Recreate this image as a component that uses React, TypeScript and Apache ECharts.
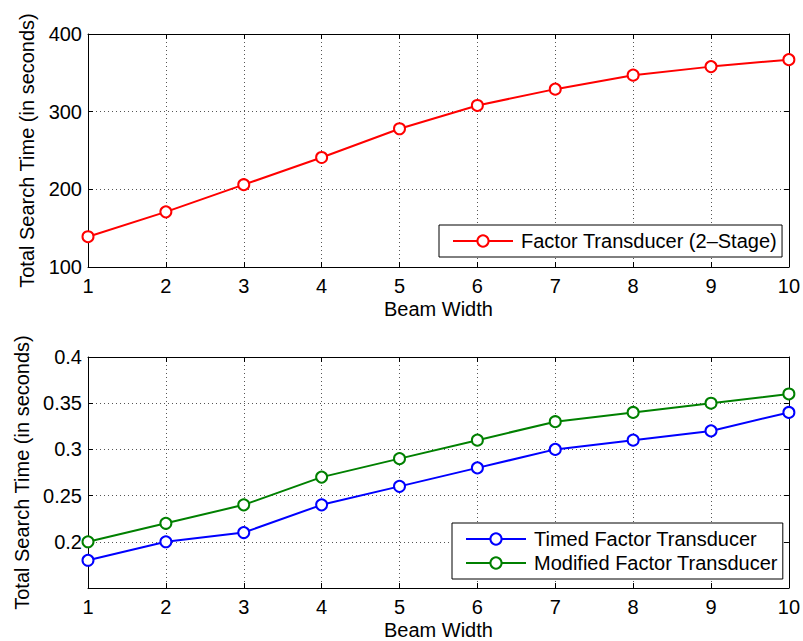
import React, { useEffect, useRef } from "react";
import * as echarts from "echarts";

const beamWidths = [1, 2, 3, 4, 5, 6, 7, 8, 9, 10];
const factor2Stage = [139, 171, 206, 241, 278, 308, 329, 347, 358, 367];
const timedFactor = [0.18, 0.2, 0.21, 0.24, 0.26, 0.28, 0.3, 0.31, 0.32, 0.34];
const modifiedFactor = [0.2, 0.22, 0.24, 0.27, 0.29, 0.31, 0.33, 0.34, 0.35, 0.36];

const seriesNames = [
  "Factor Transducer (2\u2013Stage)",
  "Timed Factor Transducer",
  "Modified Factor Transducer",
];
const xName = "Beam Width";
const yName = "Total Search Time (in seconds)";

const FONT = "Liberation Sans, Arial, Helvetica, sans-serif";
const FS = 20;

export default function App() {
  const ref = useRef<HTMLDivElement>(null);
  useEffect(() => {
    document.body.style.margin = "0";
    const chart = echarts.init(ref.current!, null, { renderer: "svg" });
    const gridLine = { show: true, lineStyle: { color: "#555", width: 1, type: [1, 3] as any } };
    const axisLine = { show: true, lineStyle: { color: "#000", width: 1 } };
    const tickIn = { show: true, inside: true, length: 5, lineStyle: { color: "#000" } };
    const label = { color: "#000", fontFamily: FONT, fontSize: FS };
    const nameStyle = { color: "#000", fontFamily: FONT, fontSize: FS };

    const mkX = (gridIndex: number, primary: boolean) => ({
      type: "value",
      gridIndex,
      min: 1,
      max: 10,
      interval: 1,
      position: primary ? "bottom" : "top",
      axisLine,
      axisTick: tickIn,
      axisLabel: primary ? { ...label, margin: 9 } : { show: false },
      splitLine: primary ? gridLine : { show: false },
      name: primary ? xName : "",
      nameLocation: "middle",
      nameGap: 32,
      nameTextStyle: nameStyle,
    });
    const mkY = (gridIndex: number, primary: boolean, min: number, max: number, interval: number, fmt: (v: number) => string) => ({
      type: "value",
      gridIndex,
      min,
      max,
      interval,
      position: primary ? "left" : "right",
      axisLine,
      axisTick: tickIn,
      axisLabel: primary ? { ...label, margin: 6, formatter: fmt } : { show: false },
      splitLine: primary ? gridLine : { show: false },
      name: primary ? yName : "",
      nameLocation: "middle",
      nameGap: 51,
      nameTextStyle: nameStyle,
    });

    const fmtTop = (v: number) => String(Math.round(v));
    const fmtBot = (v: number) => (Math.abs(v - 0.15) < 1e-9 ? "" : String(+v.toFixed(2)));

    const lineSeries = (name: string, color: string, ys: number[], axisIdx: number) => ({
      type: "line",
      name,
      xAxisIndex: axisIdx,
      yAxisIndex: axisIdx,
      data: beamWidths.map((x, i) => [x, ys[i]]),
      symbol: "circle",
      symbolSize: 11,
      showAllSymbol: true,
      clip: false,
      lineStyle: { color, width: 2 },
      itemStyle: { color: "#fff", borderColor: color, borderWidth: 2 },
      emphasis: { disabled: true },
    });

    const legendBase = {
      backgroundColor: "#fff",
      borderColor: "#000",
      borderWidth: 1,
      borderRadius: 0,
      itemWidth: 60,
      itemHeight: 14,
      itemGap: 0,
      textStyle: { color: "#000", fontFamily: FONT, fontSize: FS, lineHeight: 24, padding: [0, 0, 0, 3] },
      selectedMode: false,
    };

    chart.setOption({
      animation: false,
      grid: [
        { left: 88, top: 34, width: 704, height: 233 },
        { left: 88, top: 357, width: 704, height: 232 },
      ],
      xAxis: [mkX(0, true), mkX(0, false), mkX(1, true), mkX(1, false)],
      yAxis: [
        mkY(0, true, 100, 400, 100, fmtTop),
        mkY(0, false, 100, 400, 100, fmtTop),
        mkY(1, true, 0.15, 0.4, 0.05, fmtBot),
        mkY(1, false, 0.15, 0.4, 0.05, fmtBot),
      ],
      legend: [
        { ...legendBase, data: [seriesNames[0]], left: 439, top: 225, padding: [4, 5, 4, 13] },
        { ...legendBase, data: [seriesNames[1], seriesNames[2]], orient: "vertical", left: 452, top: 523, padding: [4, 5, 4, 13] },
      ],
      series: [
        lineSeries(seriesNames[0], "#ff0000", factor2Stage, 0),
        lineSeries(seriesNames[1], "#0000ff", timedFactor, 2),
        lineSeries(seriesNames[2], "#008000", modifiedFactor, 2),
      ],
    });
    return () => chart.dispose();
  }, []);
  return <div ref={ref} style={{ width: 803, height: 641 }} />;
}
